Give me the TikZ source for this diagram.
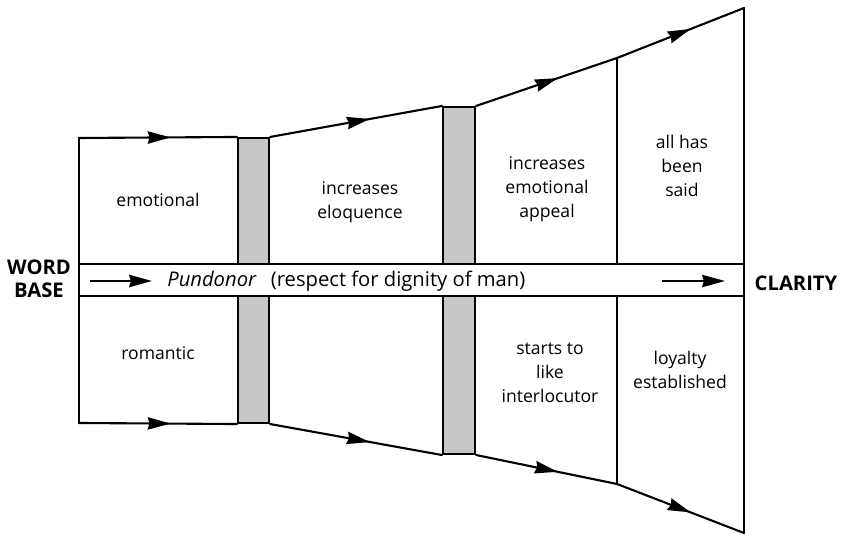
\documentclass[tikz,border=0pt]{standalone}
\usepackage{fontspec}
\setmainfont{Open Sans}
\usetikzlibrary{arrows.meta,decorations.markings}

\tikzset{
	edge/.style={line width=1.2pt, line cap=round},
	flow/.style={edge, postaction={decorate},
		decoration={markings, mark=at position 0.58 with {\arrow{Stealth[length=13pt,width=7pt,inset=1pt]}}}},
	bar/.style={draw, line width=1.2pt, fill=black!22, inner sep=0pt},
	band/.style={draw, line width=1.2pt, fill=white, inner sep=0pt},
	cell/.style={align=center, inner sep=0pt, font=\fontsize{10}{13.5}\selectfont},
	motto/.style={inner sep=0pt, font=\fontsize{11.5}{13.5}\selectfont},
	tag/.style={align=center, inner sep=0pt, font=\fontsize{11.5}{13}\selectfont\bfseries},
}

\begin{document}
\begin{tikzpicture}[x=0.02cm, y=-0.02cm]

\path [use as bounding box] (0,0) rectangle (842,536);

% OUTLINE
\coordinate (w0t) at (79,138);
\coordinate (w0b) at (79,423);
\coordinate (w3t) at (617,58);
\coordinate (w3b) at (617,484);
\coordinate (w4t) at (744,8);
\coordinate (w4b) at (744,533);

% BARS
\node [bar, minimum width=0.62cm, minimum height=5.7cm] (bar1) at (253.5,280.5) {};
\node [bar, minimum width=0.64cm, minimum height=6.94cm] (bar2) at (459,280.5) {};

% SIDES
\draw [edge] (w0t) -- (w0b);
\draw [edge] (w3t) -- (w3b);
\draw [edge] (w4t) -- (w4b);

\draw [flow] (w0t) -- (bar1.north west);
\draw [flow] (bar1.north east) -- (bar2.north west);
\draw [flow] (bar2.north east) -- (w3t);
\draw [flow] (w3t) -- (w4t);

\draw [flow] (w0b) -- (bar1.south west);
\draw [flow] (bar1.south east) -- (bar2.south west);
\draw [flow] (bar2.south east) -- (w3b);
\draw [flow] (w3b) -- (w4b);

% BAND
\node [band, minimum width=13.3cm, minimum height=0.64cm] (band) at (411.5,280) {};
\coordinate (in0) at (90,281);
\coordinate (in1) at (152,281);
\coordinate (out0) at (662,281);
\coordinate (out1) at (725,281);
\draw [edge, line cap=butt, -{Stealth[length=13pt,width=7pt,inset=1pt]}] (in0) -- (in1);
\draw [edge, line cap=butt, -{Stealth[length=13pt,width=7pt,inset=1pt]}] (out0) -- (out1);
\node [motto, anchor=west] (pundonor) at (167,281) {\textit{Pundonor}\hspace{0.7em}(respect for dignity of man)};

% TEXTS
\node [cell] (emo) at (158,200) {emotional};
\node [cell] (rom) at (158,353) {romantic};
\node [cell] (elo) at (360,202) {increases\\eloquence};
\node [cell] (app) at (547,189) {increases\\emotional\\appeal};
\node [cell] (sai) at (682,166) {all has\\been\\said};
\node [cell] (lik) at (550,373) {starts to\\like\\interlocutor};
\node [cell] (loy) at (680,370) {loyalty\\established};

\node [tag] (base) at (39,279) {WORD\\BASE};
\node [tag] (clar) at (796,283) {CLARITY};

\end{tikzpicture}
\end{document}
